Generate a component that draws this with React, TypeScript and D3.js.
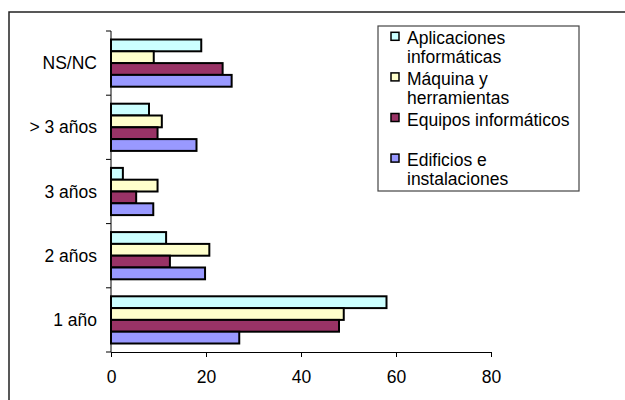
import { useEffect, useRef } from 'react';
import * as d3 from 'd3';

// categories top to bottom
const categories = ['NS/NC', '> 3 años', '3 años', '2 años', '1 año'];
const seriesNames = ['Aplicaciones informáticas', 'Máquina y herramientas', 'Equipos informáticos', 'Edificios e instalaciones'];
const legendLines = [['Aplicaciones', 'informáticas'], ['Máquina y', 'herramientas'], ['Equipos informáticos'], ['Edificios e', 'instalaciones']];
const seriesColors = ['#ccffff', '#ffffcc', '#993366', '#9999ff'];

const aplicaciones = [19, 8, 2.5, 11.6, 58];
const maquina = [9, 10.7, 9.8, 20.7, 49];
const equipos = [23.5, 9.8, 5.3, 12.4, 48];
const edificios = [25.4, 18, 8.9, 19.8, 27];
const seriesValues = [aplicaciones, maquina, equipos, edificios];

const xTicks = [0, 20, 40, 60, 80];

export default function App() {
    const svgRef = useRef<SVGSVGElement>(null);

    useEffect(() => {
        if (!svgRef.current) return;
        const svg = d3.select(svgRef.current);
        svg.selectAll('*').remove();

        const font = '"Liberation Sans", Arial, sans-serif';
        const fs = 17.5;

        const x = d3.scaleLinear().domain([0, 80]).range([111, 491]);
        const y = d3.scaleBand<string>().domain(categories).range([31, 352]);
        const inner = d3.scaleBand<number>()
            .domain(d3.range(seriesNames.length))
            .range([0, y.bandwidth()])
            .paddingOuter(0.72);

        // outer frame
        svg.append('rect')
            .attr('x', 9).attr('y', 12)
            .attr('width', 700).attr('height', 500)
            .attr('fill', 'none')
            .attr('stroke', '#222')
            .attr('stroke-width', 1.5);

        // bars
        categories.forEach((c, ci) => {
            seriesValues.forEach((vals, si) => {
                svg.append('rect')
                    .attr('x', x(0))
                    .attr('y', (y(c) as number) + (inner(si) as number))
                    .attr('width', x(vals[ci]) - x(0))
                    .attr('height', inner.bandwidth())
                    .attr('fill', seriesColors[si])
                    .attr('stroke', '#000')
                    .attr('stroke-width', 2);
            });
        });

        // y axis line + ticks at band boundaries
        svg.append('line')
            .attr('x1', x(0)).attr('x2', x(0))
            .attr('y1', 31).attr('y2', 352)
            .attr('stroke', '#000').attr('stroke-width', 1);
        const bounds = categories.map(c => y(c) as number).concat([352]);
        bounds.forEach(b => {
            svg.append('line')
                .attr('x1', x(0) - 5).attr('x2', x(0))
                .attr('y1', b).attr('y2', b)
                .attr('stroke', '#000').attr('stroke-width', 1);
        });

        // category labels
        categories.forEach(c => {
            svg.append('text')
                .attr('x', 97)
                .attr('y', (y(c) as number) + y.bandwidth() / 2)
                .attr('text-anchor', 'end')
                .attr('dominant-baseline', 'central')
                .attr('font-family', font)
                .attr('font-size', fs)
                .text(c);
        });

        // x axis
        const xAxis = svg.append('g')
            .attr('transform', 'translate(0,352)')
            .call(d3.axisBottom(x).tickValues(xTicks).tickSize(5).tickPadding(14).tickFormat(d3.format('d')));
        xAxis.select('.domain').attr('stroke', '#000');
        xAxis.selectAll('text').attr('font-family', font).attr('font-size', fs).attr('fill', '#000');

        // legend
        const lg = svg.append('g');
        lg.append('rect')
            .attr('x', 378).attr('y', 26)
            .attr('width', 201).attr('height', 165)
            .attr('fill', '#fff')
            .attr('stroke', '#444')
            .attr('stroke-width', 1.2);
        legendLines.forEach((lines, i) => {
            const cy = 38.3 + i * 40.6;
            lg.append('rect')
                .attr('x', 391).attr('y', cy - 6)
                .attr('width', 8).attr('height', 8)
                .attr('fill', seriesColors[i])
                .attr('stroke', '#000')
                .attr('stroke-width', 1.5);
            lines.forEach((t, li) => {
                lg.append('text')
                    .attr('x', 407)
                    .attr('y', cy + li * 19)
                    .attr('dominant-baseline', 'central')
                    .attr('font-family', font)
                    .attr('font-size', fs)
                    .text(t);
            });
        });
    }, []);

    return (
        <svg ref={svgRef} width={625} height={400}
            style={{ position: 'absolute', left: 0, top: 0, background: '#fff' }} />
    );
}
